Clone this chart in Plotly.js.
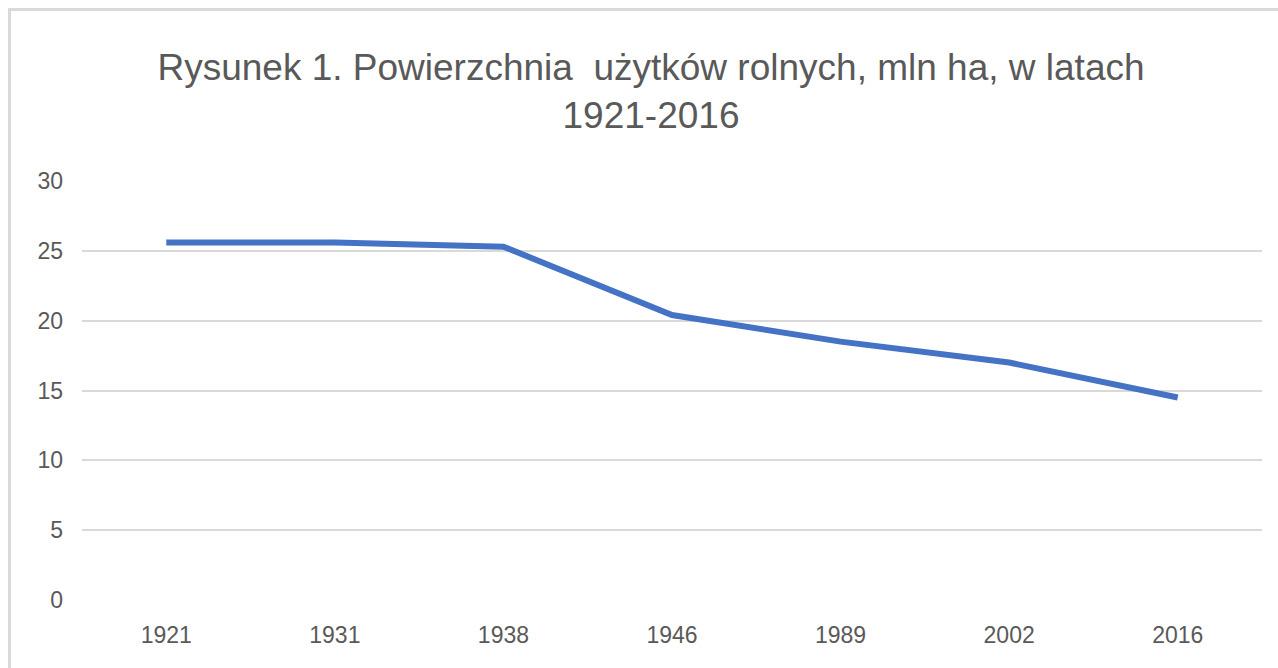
<!DOCTYPE html>
<html>
<head>
<meta charset="utf-8">
<script src="https://cdn.plot.ly/plotly-3.0.1.min.js"></script>
<style>
html,body{margin:0;padding:0;background:#fff;}
#wrap{position:relative;width:1278px;height:668px;overflow:hidden;}
#chart{position:absolute;left:0;top:0;width:1278px;height:668px;}
#frame{position:absolute;left:8px;top:8px;width:1400px;height:800px;border-left:3px solid #d9d9d9;border-top:3px solid #d9d9d9;pointer-events:none;}
</style>
</head>
<body>
<div id="wrap"><div id="chart"></div><div id="frame"></div></div>
<script>
const years = ['1921', '1931', '1938', '1946', '1989', '2002', '2016'];
const area = [25.6, 25.6, 25.3, 20.4, 18.5, 17.0, 14.5];
const yTicks = [0, 5, 10, 15, 20, 25, 30];
const titleText = 'Rysunek 1. Powierzchnia  użytków rolnych, mln ha, w latach<br>1921-2016';

const trace = {
  x: years,
  y: area,
  type: 'scatter',
  mode: 'lines',
  line: {color: '#4472C4', width: 6, shape: 'linear'},
  hoverinfo: 'x+y'
};

const layout = {
  width: 1278,
  height: 668,
  paper_bgcolor: '#ffffff',
  plot_bgcolor: '#ffffff',
  margin: {l: 82, r: 16, t: 181, b: 68},
  showlegend: false,
  title: {
    text: titleText,
    x: 0.5094,
    xanchor: 'center',
    y: 1 - 80/668,
    yanchor: 'top',
    font: {family: 'Liberation Sans, Arial', size: 37, color: '#595959'}
  },
  xaxis: {
    type: 'category',
    range: [-0.5, 6.5],
    showgrid: false,
    zeroline: false,
    showline: false,
    ticks: '',
    tickfont: {family: 'Liberation Sans, Arial', size: 23, color: '#595959'},
    ticklabelstandoff: 19
  },
  yaxis: {
    range: [0, 30],
    tickvals: yTicks,
    ticktext: yTicks.map(String),
    showgrid: true,
    gridcolor: '#d9d9d9',
    gridwidth: 2,
    zeroline: false,
    showline: false,
    ticks: '',
    tickfont: {family: 'Liberation Sans, Arial', size: 23, color: '#595959'},
    ticklabelstandoff: 18
  }
};

Plotly.newPlot('chart', [trace], layout, {displayModeBar: false, staticPlot: true});
</script>
</body>
</html>
